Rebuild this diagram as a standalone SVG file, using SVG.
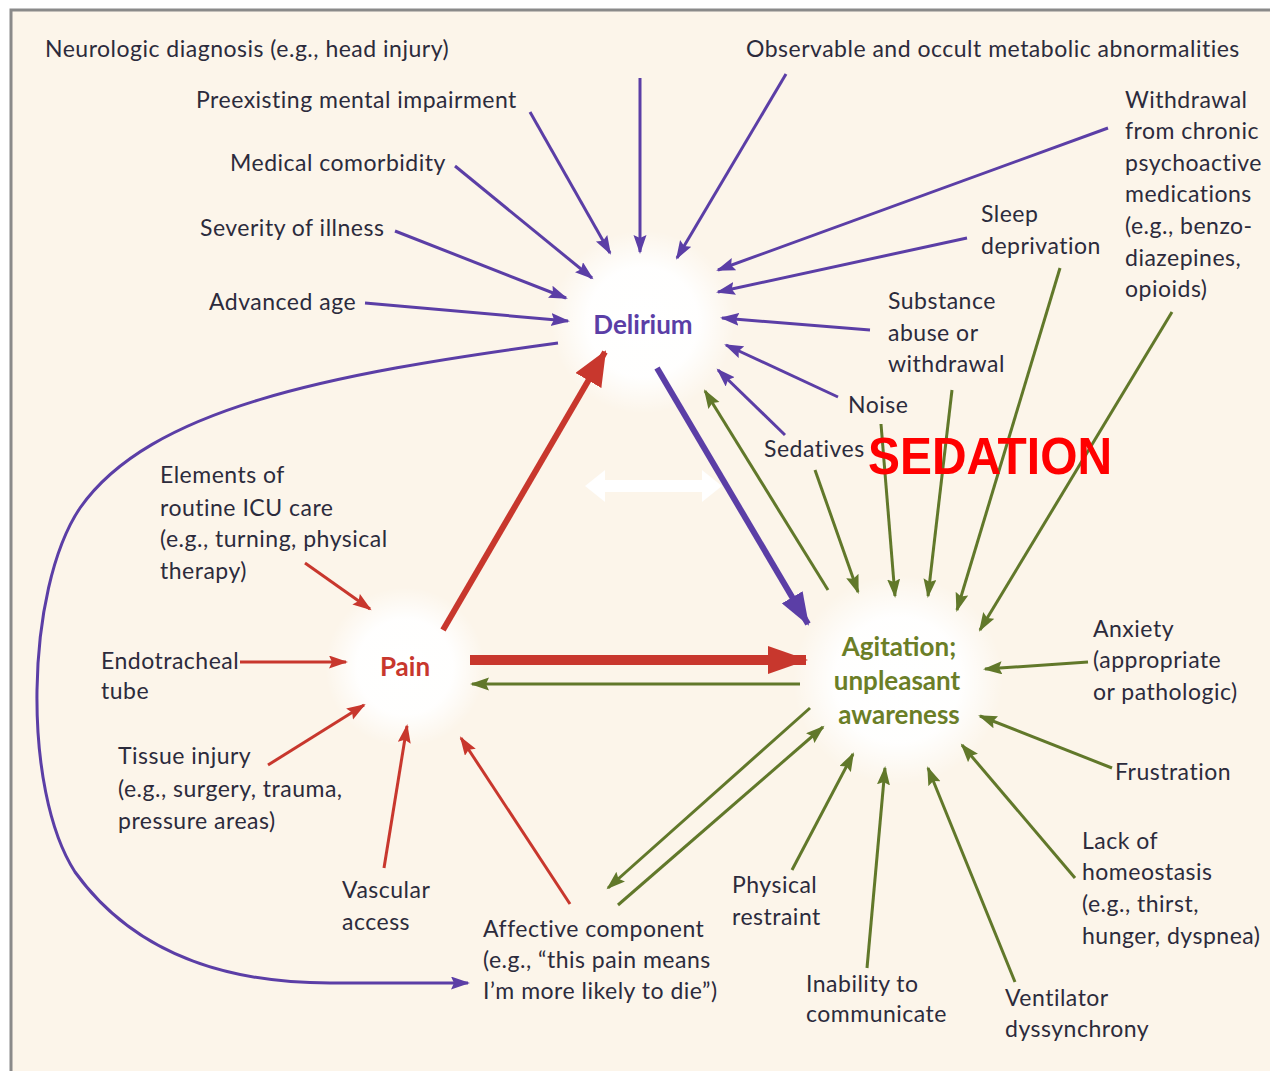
<svg xmlns="http://www.w3.org/2000/svg" width="1270" height="1071" viewBox="0 0 1270 1071">
  <defs>
    <radialGradient id="glow" cx="0.5" cy="0.5" r="0.5">
      <stop offset="0" stop-color="#ffffff" stop-opacity="1"/>
      <stop offset="0.6" stop-color="#ffffff" stop-opacity="0.95"/>
      <stop offset="1" stop-color="#ffffff" stop-opacity="0"/>
    </radialGradient>
    <marker id="ap" markerUnits="userSpaceOnUse" markerWidth="20" markerHeight="14" refX="17" refY="6.5" orient="auto">
      <path d="M0,0 L19,6.5 L0,13 L3,6.5 z" fill="#5b3ea6"/>
    </marker>
    <marker id="ar" markerUnits="userSpaceOnUse" markerWidth="20" markerHeight="14" refX="17" refY="6.5" orient="auto">
      <path d="M0,0 L19,6.5 L0,13 L3,6.5 z" fill="#c8372d"/>
    </marker>
    <marker id="ag" markerUnits="userSpaceOnUse" markerWidth="20" markerHeight="14" refX="17" refY="6.5" orient="auto">
      <path d="M0,0 L19,6.5 L0,13 L3,6.5 z" fill="#61782a"/>
    </marker>
    <marker id="apBig" markerUnits="userSpaceOnUse" markerWidth="34" markerHeight="24" refX="31" refY="12" orient="auto">
      <path d="M0,0 L33,12 L0,24 z" fill="#5b3ea6"/>
    </marker>
    <marker id="arBig" markerUnits="userSpaceOnUse" markerWidth="36" markerHeight="30" refX="33" refY="15" orient="auto">
      <path d="M0,0 L35,15 L0,30 z" fill="#c8372d"/>
    </marker>
    <marker id="arHuge" markerUnits="userSpaceOnUse" markerWidth="40" markerHeight="28" refX="38" refY="14" orient="auto">
      <path d="M0,0 L40,14 L0,28 z" fill="#c8372d"/>
    </marker>
    <style>
      .lbl { font-family: Lato, "Open Sans", "Liberation Sans", sans-serif; font-size: 23px; letter-spacing: 0.5px; fill: #2c2b3c; }
      .node { font-family: Lato, "Open Sans", "Liberation Sans", sans-serif; font-size: 26px; font-weight: bold; text-anchor: middle; }
      .p { stroke: #5b3ea6; stroke-width: 3; fill: none; marker-end: url(#ap); }
      .r { stroke: #c8372d; stroke-width: 3; fill: none; marker-end: url(#ar); }
      .g { stroke: #61782a; stroke-width: 3; fill: none; marker-end: url(#ag); }
    </style>
  </defs>

  <!-- page and frame -->
  <rect x="0" y="0" width="1270" height="1071" fill="#ffffff"/>
  <rect x="11" y="10" width="1280" height="1080" fill="#fcf5ea" stroke="#8a8a8a" stroke-width="3"/>

  <!-- soft halos behind the three central concepts -->
  <circle cx="643" cy="322" r="92" fill="url(#glow)"/>
  <circle cx="405" cy="667" r="80" fill="url(#glow)"/>
  <circle cx="898" cy="680" r="105" fill="url(#glow)"/>

  <!-- connectors -->
  <g id="connectors">
    <!-- causes of delirium -->
    <line class="p" x1="640" y1="78" x2="640" y2="252"/>
    <line class="p" x1="530" y1="112" x2="610" y2="253"/>
    <line class="p" x1="455" y1="166" x2="592" y2="278"/>
    <line class="p" x1="395" y1="231" x2="566" y2="298"/>
    <line class="p" x1="365" y1="303" x2="568" y2="321"/>
    <line class="p" x1="786" y1="74" x2="677" y2="258"/>
    <line class="p" x1="1108" y1="128" x2="718" y2="270"/>
    <line class="p" x1="967" y1="238" x2="718" y2="292"/>
    <line class="p" x1="870" y1="330" x2="722" y2="318"/>
    <line class="p" x1="838" y1="397" x2="726" y2="345"/>
    <line class="p" x1="785" y1="435" x2="718" y2="370"/>
    <!-- delirium feeding the affective component -->
    <path class="p" d="M558,343 C 330,374 150,408 80,508 C 25,590 22,790 75,872 C 140,962 240,983 330,983 L 468,983"/>

    <!-- triangle between the three concepts -->
    <line x1="443" y1="630" x2="605" y2="352" stroke="#c8372d" stroke-width="6" marker-end="url(#arBig)"/>
    <line x1="657" y1="368" x2="808" y2="624" stroke="#5b3ea6" stroke-width="6" marker-end="url(#apBig)"/>
    <line x1="470" y1="660" x2="806" y2="660" stroke="#c8372d" stroke-width="10" marker-end="url(#arHuge)"/>
    <line class="g" x1="800" y1="684" x2="472" y2="684"/>
    <line class="g" x1="828" y1="590" x2="705" y2="391"/>

    <!-- causes of pain -->
    <line class="r" x1="305" y1="563" x2="370" y2="609"/>
    <line class="r" x1="240" y1="662" x2="346" y2="662"/>
    <line class="r" x1="268" y1="765" x2="364" y2="705"/>
    <line class="r" x1="384" y1="868" x2="407" y2="726"/>
    <line class="r" x1="570" y1="904" x2="461" y2="738"/>

    <!-- causes of agitation -->
    <line class="g" x1="815" y1="470" x2="858" y2="592"/>
    <line class="g" x1="881" y1="424" x2="895" y2="596"/>
    <line class="g" x1="952" y1="390" x2="928" y2="596"/>
    <line class="g" x1="1060" y1="268" x2="957" y2="610"/>
    <line class="g" x1="1172" y1="312" x2="980" y2="630"/>
    <line class="g" x1="1088" y1="662" x2="985" y2="669"/>
    <line class="g" x1="1112" y1="768" x2="980" y2="716"/>
    <line class="g" x1="1075" y1="878" x2="962" y2="745"/>
    <line class="g" x1="1015" y1="982" x2="928" y2="768"/>
    <line class="g" x1="867" y1="968" x2="885" y2="768"/>
    <line class="g" x1="792" y1="870" x2="853" y2="754"/>
    <line class="g" x1="810" y1="708" x2="608" y2="888"/>
    <line class="g" x1="618" y1="905" x2="823" y2="727"/>

    <!-- white two-way arrow -->
    <path d="M585,486 L605,470 L605,480 L702,480 L702,470 L722,486 L702,502 L702,492 L605,492 L605,502 z" fill="#ffffff"/>
  </g>

  <!-- central concepts -->
  <g id="delirium"><text class="node" x="643" y="334" fill="#5b3ea6">Delirium</text></g>
  <g id="pain"><text class="node" x="405" y="676" fill="#c8372d">Pain</text></g>
  <g id="agitation">
    <text class="node" x="899" y="656" fill="#6b7e27">Agitation;</text>
    <text class="node" x="897" y="690" fill="#6b7e27">unpleasant</text>
    <text class="node" x="899" y="724" fill="#6b7e27">awareness</text>
  </g>

  <!-- delirium factors -->
  <g id="neurologic"><text class="lbl" x="45" y="57">Neurologic diagnosis (e.g., head injury)</text></g>
  <g id="preexisting"><text class="lbl" x="196" y="108">Preexisting mental impairment</text></g>
  <g id="comorbidity"><text class="lbl" x="230" y="171">Medical comorbidity</text></g>
  <g id="severity"><text class="lbl" x="200" y="236">Severity of illness</text></g>
  <g id="age"><text class="lbl" x="209" y="310">Advanced age</text></g>
  <g id="metabolic"><text class="lbl" x="746" y="57">Observable and occult metabolic abnormalities</text></g>
  <g id="withdrawal">
    <text class="lbl" x="1125" y="108">Withdrawal</text>
    <text class="lbl" x="1125" y="139">from chronic</text>
    <text class="lbl" x="1125" y="171">psychoactive</text>
    <text class="lbl" x="1125" y="202">medications</text>
    <text class="lbl" x="1125" y="234">(e.g., benzo-</text>
    <text class="lbl" x="1125" y="266">diazepines,</text>
    <text class="lbl" x="1125" y="297">opioids)</text>
  </g>
  <g id="sleep">
    <text class="lbl" x="981" y="222">Sleep</text>
    <text class="lbl" x="981" y="254">deprivation</text>
  </g>
  <g id="substance">
    <text class="lbl" x="888" y="309">Substance</text>
    <text class="lbl" x="888" y="341">abuse or</text>
    <text class="lbl" x="888" y="372">withdrawal</text>
  </g>
  <g id="noise"><text class="lbl" x="848" y="413">Noise</text></g>
  <g id="sedatives"><text class="lbl" x="764" y="457">Sedatives</text></g>
  <g id="sedation"><text x="868" y="474" font-family="'Liberation Sans', Arial, sans-serif" font-weight="bold" font-size="51" fill="#ff0000" textLength="244" lengthAdjust="spacingAndGlyphs">SEDATION</text></g>

  <!-- pain factors -->
  <g id="icu-care">
    <text class="lbl" x="160" y="483">Elements of</text>
    <text class="lbl" x="160" y="516">routine ICU care</text>
    <text class="lbl" x="160" y="547">(e.g., turning, physical</text>
    <text class="lbl" x="160" y="579">therapy)</text>
  </g>
  <g id="endotracheal">
    <text class="lbl" x="101" y="669">Endotracheal</text>
    <text class="lbl" x="101" y="699">tube</text>
  </g>
  <g id="tissue">
    <text class="lbl" x="118" y="764">Tissue injury</text>
    <text class="lbl" x="118" y="797">(e.g., surgery, trauma,</text>
    <text class="lbl" x="118" y="829">pressure areas)</text>
  </g>
  <g id="vascular">
    <text class="lbl" x="342" y="898">Vascular</text>
    <text class="lbl" x="342" y="930">access</text>
  </g>
  <g id="affective">
    <text class="lbl" x="483" y="937">Affective component</text>
    <text class="lbl" x="483" y="968">(e.g., “this pain means</text>
    <text class="lbl" x="483" y="999">I’m more likely to die”)</text>
  </g>

  <!-- agitation factors -->
  <g id="restraint">
    <text class="lbl" x="732" y="893">Physical</text>
    <text class="lbl" x="732" y="925">restraint</text>
  </g>
  <g id="inability">
    <text class="lbl" x="806" y="992">Inability to</text>
    <text class="lbl" x="806" y="1022">communicate</text>
  </g>
  <g id="ventilator">
    <text class="lbl" x="1005" y="1006">Ventilator</text>
    <text class="lbl" x="1005" y="1037">dyssynchrony</text>
  </g>
  <g id="homeostasis">
    <text class="lbl" x="1082" y="849">Lack of</text>
    <text class="lbl" x="1082" y="880">homeostasis</text>
    <text class="lbl" x="1082" y="912">(e.g., thirst,</text>
    <text class="lbl" x="1082" y="944">hunger, dyspnea)</text>
  </g>
  <g id="frustration"><text class="lbl" x="1115" y="780">Frustration</text></g>
  <g id="anxiety">
    <text class="lbl" x="1093" y="637">Anxiety</text>
    <text class="lbl" x="1093" y="668">(appropriate</text>
    <text class="lbl" x="1093" y="700">or pathologic)</text>
  </g>
</svg>
